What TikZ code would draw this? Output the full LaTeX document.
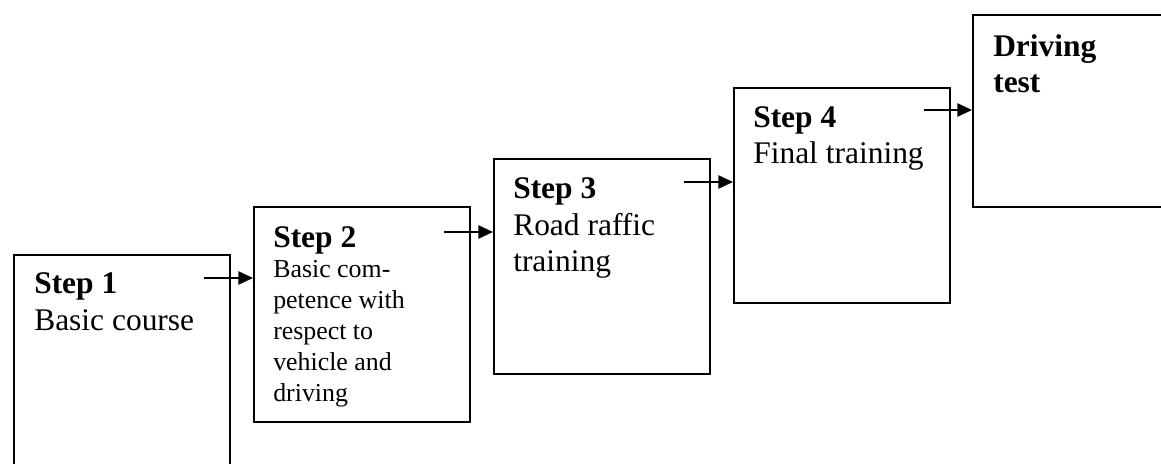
\documentclass[tikz,border=0pt]{standalone}
\usepackage{fontspec}
\setmainfont{Liberation Serif}
\usetikzlibrary{arrows.meta}
% multi-line text whose baseline is that of its first line
\newcommand{\toplines}[1]{\begin{tabular}[t]{@{}l@{}}#1\end{tabular}}
\tikzset{
  stagebox/.style={draw, line width=1.5pt, rectangle, inner sep=0pt, anchor=north west,
    minimum width=162pt, minimum height=161.25pt},
  headtext/.style={anchor=base west, inner sep=0pt,
    font=\fontsize{23.6}{27}\selectfont\bfseries},
  bodytext/.style={anchor=base west, inner sep=0pt,
    font=\fontsize{23.6}{27}\selectfont},
  smalltext/.style={anchor=base west, inner sep=0pt,
    font=\fontsize{19.4}{23.25}\selectfont},
  flow/.style={-{Triangle[length=11pt,width=10pt]}, line width=1.2pt},
}
\begin{document}
\begin{tikzpicture}[x=0.75pt,y=-0.75pt]
\useasboundingbox (0,0) rectangle (1161,464);

% stage boxes
\node[stagebox, minimum height=169.5pt] (b1) at (13,254) {};
\node[stagebox] (b2) at (253,206) {};
\node[stagebox] (b3) at (493,158) {};
\node[stagebox] (b4) at (733,87) {};
\node[stagebox, minimum width=200pt, minimum height=144pt] (b5) at (972,14) {};

% box texts
\node[headtext] (h1) at ([shift={(21,39)}]b1.north west) {Step 1};
\node[bodytext] (t1) at ([shift={(0,37)}]h1.base west) {Basic course};

\node[headtext] (h2) at ([shift={(20,41)}]b2.north west) {Step 2};
\node[smalltext] (t2) at ([shift={(0,30)}]h2.base west)
  {\toplines{Basic com-\\petence with\\respect to\\vehicle and\\driving}};

\node[headtext] (h3) at ([shift={(20,40)}]b3.north west) {Step 3};
\node[bodytext] (t3) at ([shift={(0,37)}]h3.base west) {\toplines{Road raffic\\training}};

\node[headtext] (h4) at ([shift={(20,40)}]b4.north west) {Step 4};
\node[bodytext] (t4) at ([shift={(0,36)}]h4.base west) {Final training};

\node[headtext] (h5) at ([shift={(21,42)}]b5.north west) {\toplines{Driving\\test}};

% connectors
\coordinate (s1) at (204,278);
\coordinate (s2) at (444,232);
\coordinate (s3) at (684,182);
\coordinate (s4) at (924,110);
\draw[flow] (s1) -- (s1 -| b2.west);
\draw[flow] (s2) -- (s2 -| b3.west);
\draw[flow] (s3) -- (s3 -| b4.west);
\draw[flow] (s4) -- (s4 -| b5.west);
\end{tikzpicture}
\end{document}
